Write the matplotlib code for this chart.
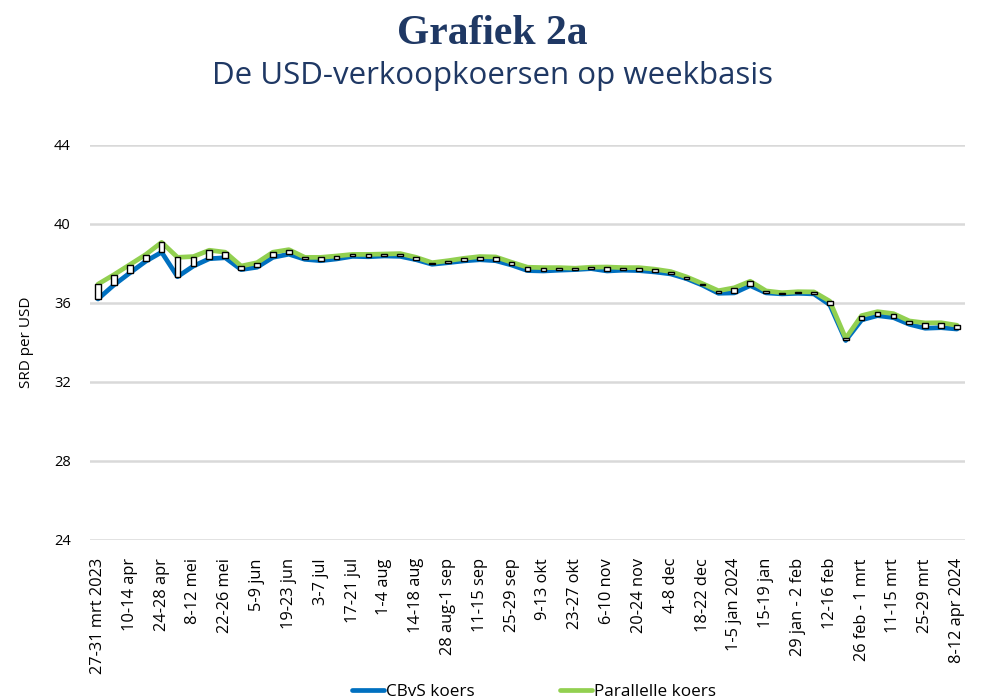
import numpy as np
import matplotlib
matplotlib.use("Agg")
import matplotlib.pyplot as plt

# --- Data ---
week_labels = [
    "27-31 mrt 2023", "10-14 apr", "24-28 apr", "8-12 mei", "22-26 mei",
    "5-9 jun", "19-23 jun", "3-7 jul", "17-21 jul", "1-4 aug", "14-18 aug",
    "28 aug-1 sep", "11-15 sep", "25-29 sep", "9-13 okt", "23-27 okt",
    "6-10 nov", "20-24 nov", "4-8 dec", "18-22 dec", "1-5 jan 2024",
    "15-19 jan", "29 jan - 2 feb", "12-16 feb", "26 feb - 1 mrt",
    "11-15 mrt", "25-29 mrt", "8-12 apr 2024",
]

cbvs = [
    36.20, 36.91, 37.52, 38.11, 38.57, 37.33, 37.87, 38.24, 38.29, 37.69,
    37.81, 38.31, 38.47, 38.21, 38.14, 38.23, 38.36, 38.34, 38.38, 38.36,
    38.19, 37.96, 38.04, 38.13, 38.19, 38.14, 37.92, 37.64, 37.62, 37.66,
    37.69, 37.74, 37.62, 37.66, 37.64, 37.57, 37.47, 37.23, 36.90, 36.49,
    36.51, 36.88, 36.51, 36.46, 36.49, 36.46, 35.91, 34.10, 35.14, 35.36,
    35.26, 34.92, 34.72, 34.75, 34.68,
]

parallel = [
    36.95, 37.43, 37.94, 38.45, 39.07, 38.31, 38.35, 38.67, 38.57, 37.87,
    38.04, 38.57, 38.70, 38.31, 38.31, 38.38, 38.46, 38.46, 38.48, 38.50,
    38.31, 38.04, 38.14, 38.26, 38.35, 38.33, 38.06, 37.81, 37.79, 37.79,
    37.76, 37.81, 37.82, 37.79, 37.79, 37.71, 37.59, 37.32, 36.98, 36.62,
    36.77, 37.10, 36.61, 36.52, 36.57, 36.56, 36.09, 34.21, 35.36, 35.56,
    35.46, 35.09, 34.99, 35.00, 34.87,
]

y_ticks = [24, 28, 32, 36, 40, 44]

NAVY = "#1f3864"
BLUE = "#0070c0"
GREEN = "#92d050"
GRID = "#d9d9d9"

plt.rcParams["font.family"] = ["Open Sans", "DejaVu Sans"]

x = np.arange(len(cbvs))
cbvs_a = np.array(cbvs)
par_a = np.array(parallel)

fig = plt.figure(figsize=(9.85, 7.0), dpi=100)
ax = fig.add_axes([0.0914, 0.2286, 0.8883, 0.5643])  # [left, bottom, w, h]

# lines: blue under green, up/down boxes on top
ax.plot(x, cbvs_a, color=BLUE, lw=3.4, solid_capstyle="round",
        solid_joinstyle="round", zorder=3, label="CBvS koers")
ax.plot(x, par_a, color=GREEN, lw=3.4, solid_capstyle="round",
        solid_joinstyle="round", zorder=3.5, label="Parallelle koers")
ax.bar(x, par_a - cbvs_a, bottom=cbvs_a, width=0.36, color="white",
       edgecolor="black", linewidth=1.0, zorder=4)

ax.set_xlim(-0.5, len(x) - 0.5)
ax.set_ylim(24, 44)
ax.set_yticks(y_ticks)
ax.set_xticks(x[::2])
ax.set_xticklabels(week_labels, rotation=90, fontsize=11.8)
ax.tick_params(axis="both", length=0, colors="black")
ax.tick_params(axis="y", labelsize=10.5, pad=14)
ax.tick_params(axis="x", pad=13)

ax.grid(axis="y", color=GRID, lw=1.8, zorder=0)
ax.set_axisbelow(True)
for s in ax.spines.values():
    s.set_visible(False)

ax.set_ylabel("SRD per USD", fontsize=11, labelpad=14)

fig.text(0.5, 0.952, "Grafiek 2a", ha="center", va="center",
         family="Liberation Serif", fontweight="bold", fontsize=30, color=NAVY)
fig.text(0.5, 0.891, "De USD-verkoopkoersen op weekbasis", ha="center",
         va="center", fontsize=22.5, color=NAVY)

fig.legend(handles=ax.get_lines(), loc="center", bbox_to_anchor=(0.542, 0.012),
           ncol=2, frameon=False, fontsize=12.3, handlelength=1.9,
           handletextpad=0.1, columnspacing=5.0)

fig.savefig("out.png", dpi=100)
